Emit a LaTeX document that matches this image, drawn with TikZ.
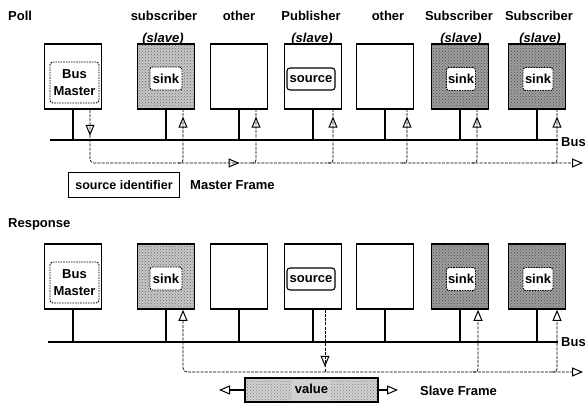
\documentclass[tikz,border=0pt]{standalone}
\usepackage{fontspec}
\setmainfont{Liberation Sans}
\usetikzlibrary{arrows.meta,decorations.markings,patterns}
\begin{document}
\begin{tikzpicture}[x=1pt,y=-1pt,
  every node/.style={font=\fontsize{13}{15}\selectfont\bfseries, inner sep=0pt},
  unit/.style={draw, line width=1.6pt, minimum width=57pt, minimum height=65pt},
  subA/.style={unit, preaction={fill=black!22}, pattern=crosshatch dots, pattern color=black!60},
  subB/.style={unit, preaction={fill=black!38}, pattern=crosshatch dots, pattern color=black!70},
  sinkbox/.style={draw, fill=white, line width=0.9pt, dash pattern=on 1.6pt off 1pt, rounded corners=2.5pt, minimum width=30pt, minimum height=23pt},
  srcbox/.style={draw, fill=white, line width=1.1pt, rounded corners=3pt, minimum width=48pt, minimum height=22pt},
  mbox/.style={draw, fill=white, line width=0.9pt, dash pattern=on 1.6pt off 1pt, rounded corners=3pt, minimum width=49pt, minimum height=41pt, align=center, font=\fontsize{13}{17}\selectfont\bfseries},
  lbl/.style={anchor=base},
  bus/.style={line width=2.6pt},
  stem/.style={line width=1.8pt},
  frame/.style={line width=0.7pt, dash pattern=on 3pt off 1.2pt},
  tipo/.tip={Triangle[open, length=11pt, width=9pt, line width=1pt]},
  amark/.style={postaction={decorate, decoration={markings, mark=at position #1 with {\arrow{tipo}}}}},
  slabel/.style={anchor=base, font=\fontsize{13}{15}\selectfont\bfseries\itshape}
]
\useasboundingbox (0,0) rectangle (585,404);

% ---------------- Poll ----------------
\node[anchor=base west] (poll) at (8,21) {Poll};
\node[lbl] (t1) at (164,21) {subscriber};
\node[slabel] (t1s) at (163,43) {(slave)};
\node[lbl] (t2) at (239,21) {other};
\node[lbl] (t3) at (311,21) {Publisher};
\node[slabel] (t3s) at (312,43) {(slave)};
\node[lbl] (t4) at (388,21) {other};
\node[lbl] (t5) at (459,21) {Subscriber};
\node[slabel] (t5s) at (461,43) {(slave)};
\node[lbl] (t6) at (539,21) {Subscriber};
\node[slabel] (t6s) at (540,43) {(slave)};

\node[unit] (m1) at (73,76.5) {};
\node[mbox] (bm1) at (74.5,82.5) {Bus\\Master};
\node[subA] (s1) at (166,76.5) {};
\node[sinkbox, minimum width=32pt] (k1) at (166,78.5) {sink};
\node[unit] (o1) at (239,76.5) {};
\node[unit] (p1) at (313,76.5) {};
\node[srcbox] (src1) at (311,79) {source};
\node[unit] (o2) at (385,76.5) {};
\node[subB] (s2) at (460,76.5) {};
\node[sinkbox, minimum width=29pt] (k2) at (461,79) {sink};
\node[subB] (s3) at (537,76.5) {};
\node[sinkbox, minimum width=30pt] (k3) at (538,79) {sink};

\coordinate (busL1) at (50,140);
\coordinate (busR1) at (558,140);
\draw[bus] (busL1) -- (busR1);
\node[anchor=west] (bus1) at (561,142) {Bus};
\foreach \n in {m1,s1,o1,p1,o2,s2,s3} \draw[stem] (\n.south) -- (\n.south |- busL1);

\coordinate (fA) at (90,163);
\coordinate (fAend) at (583,163);
\coordinate (a1) at ([xshift=17pt]m1.south);
\draw[frame, rounded corners=4pt, -{tipo}, amark=26pt, amark=201pt] (a1) -- (fA) -- (fAend);
\coordinate (a2) at ([xshift=17pt]s1.south);
\coordinate (a3) at ([xshift=17pt]o1.south);
\coordinate (a4) at ([xshift=20pt]p1.south);
\coordinate (a5) at ([xshift=22pt]o2.south);
\coordinate (a6) at ([xshift=17pt]s2.south);
\coordinate (a7) at ([xshift=20pt]s3.south);
\foreach \c in {a2,a3,a4,a5,a6,a7}
  \draw[frame, rounded corners=3pt, amark=50pt] (\c |- fA) ++(-5,0) -- ++(5,0) -- (\c);

\node[draw, line width=1.2pt, minimum width=111pt, minimum height=25pt] (sid) at (124,185) {\fontsize{12.5}{15}\selectfont source identifier};
\node[anchor=west] (mf) at (190,185) {Master Frame};

% ---------------- Response ----------------
\node[anchor=base west] (resp) at (8,227) {Response};

\node[unit] (m1b) at (73,276.5) {};
\node[mbox] (bm2) at (74.5,282.5) {Bus\\Master};
\node[subA] (s1b) at (166,276.5) {};
\node[sinkbox, minimum width=32pt] (k1b) at (166,278.5) {sink};
\node[unit] (o1b) at (239,276.5) {};
\node[unit] (p1b) at (313,276.5) {};
\node[srcbox] (src2) at (311,279) {source};
\node[unit] (o2b) at (385,276.5) {};
\node[subB] (s2b) at (460,276.5) {};
\node[sinkbox, minimum width=29pt] (k2b) at (461,279) {sink};
\node[subB] (s3b) at (537,276.5) {};
\node[sinkbox, minimum width=30pt] (k3b) at (538,279) {sink};

\coordinate (busL2) at (48,342);
\coordinate (busR2) at (558,342);
\draw[bus] (busL2) -- (busR2);
\node[anchor=west] (bus2) at (561,342) {Bus};
\foreach \n in {m1b,s1b,o1b,p1b,o2b,s2b,s3b} \draw[stem] (\n.south) -- (\n.south |- busL2);

\coordinate (fB) at (183,372);
\coordinate (fBend) at (583,372);
\coordinate (b2) at ([xshift=17pt]s1b.south);
\coordinate (b4) at ([xshift=12pt]p1b.south);
\coordinate (b6) at ([xshift=18pt]s2b.south);
\coordinate (b7) at ([xshift=20pt]s3b.south);
\draw[frame, rounded corners=4pt, {tipo}-{tipo}] (b2) -- (b2 |- fB) -- (fBend);
\draw[frame, amark=57pt] (b4) -- (b4 |- fB);
\foreach \c in {b6,b7}
  \draw[frame, rounded corners=3pt, -{tipo}] (\c |- fB) ++(-5,0) -- ++(5,0) -- (\c);

\node[draw, line width=1.2pt, preaction={fill=black!18}, pattern=crosshatch dots, pattern color=black!50, minimum width=133pt, minimum height=24pt] (val) at (311.5,390) {\fontsize{13}{15}\selectfont\colorbox{black!18}{\strut value}};
\coordinate (vl) at (219,390);
\coordinate (vr) at (398,390);
\draw[line width=1.1pt, -{tipo}] (val.west) -- (vl);
\draw[line width=1.1pt, -{tipo}] (val.east) -- (vr);
\node[anchor=west] (sf) at (420,391) {Slave Frame};
\end{tikzpicture}
\end{document}
